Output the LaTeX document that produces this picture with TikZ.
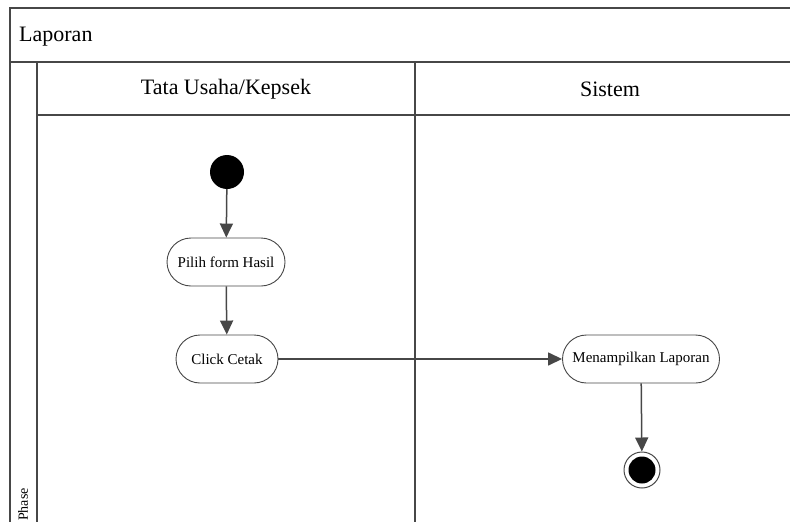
\documentclass[tikz,border=0pt]{standalone}
\usepackage{fontspec}
\setmainfont{Liberation Serif}
\usetikzlibrary{arrows.meta}
\definecolor{ln}{HTML}{474747}
\tikzset{
  frame/.style={draw=ln, line width=1.5pt},
  act/.style={draw=ln, line width=0.9pt, rounded corners=24pt, fill=white, minimum height=48pt, inner sep=0pt, font=\fontsize{15}{17}\selectfont},
  flow/.style={draw=ln, line width=1.5pt, -{Triangle[length=14pt,width=13pt]}},
  startst/.style={circle, fill=black, minimum size=34pt, inner sep=0pt},
  endst/.style={circle, draw=ln, line width=1pt, fill=white, minimum size=36pt, inner sep=0pt},
}
\begin{document}
\begin{tikzpicture}[x=1pt,y=-1pt]
\useasboundingbox (0,0) rectangle (790,522);
% frame
\draw[frame] (800,8) -- (10,8) -- (10,530);
\draw[frame] (10,62) -- (800,62);
\draw[frame] (37,62) -- (37,530);
\draw[frame] (37,115) -- (800,115);
\draw[frame] (415,62) -- (415,530);
\node[anchor=west, font=\fontsize{22}{24}\selectfont, inner sep=0pt] (title) at (19,37) {Laporan};
\node[font=\fontsize{22}{24}\selectfont, inner sep=0pt] (lane1) at (226,89) {Tata Usaha/Kepsek};
\node[font=\fontsize{22}{24}\selectfont, inner sep=0pt] (lane2) at (610,89) {Sistem};
\node[rotate=90, anchor=west, font=\fontsize{14}{16}\selectfont, inner sep=0pt] (phase) at (23,521) {Phase};
% nodes
\node[startst] (start) at (227,172) {};
\node[act, minimum width=118pt] (pilih) at (226,262) {Pilih form Hasil};
\node[act, minimum width=102pt] (click) at (227,359) {Click Cetak};
\node[act, minimum width=157pt] (tampil) at (641,359) {Menampilkan Laporan};
\node[endst] (end) at (642,470) {};
\fill[black] (end.center) circle (13.5pt);
% flows
\draw[flow] (start) -- (pilih);
\draw[flow] (pilih) -- (click);
\draw[flow] (click) -- (tampil);
\draw[flow] (tampil) -- (end);
\end{tikzpicture}
\end{document}
